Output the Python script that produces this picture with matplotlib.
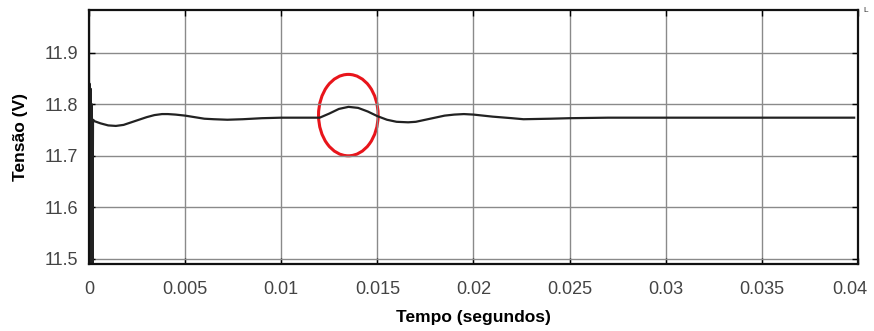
import matplotlib
matplotlib.use('Agg')
import matplotlib.pyplot as plt
import matplotlib.transforms as mtransforms
from matplotlib.patches import Ellipse

# tempo (s) e tensão (V)
tempo = [0.0, 0.00003, 0.00006, 0.00009, 0.00012, 0.00015, 0.00018, 0.00021,
         0.0003, 0.0006, 0.001, 0.0014,
         0.0018, 0.0022, 0.0026, 0.003, 0.0034, 0.0038, 0.0041, 0.0045, 0.005,
         0.0055, 0.006, 0.0065, 0.0072, 0.008, 0.009, 0.010, 0.011, 0.012,
         0.0125, 0.013, 0.0135, 0.014, 0.0145, 0.015, 0.0155, 0.016, 0.0166,
         0.017, 0.0175, 0.018, 0.0185, 0.019, 0.0195, 0.020, 0.0205, 0.021,
         0.022, 0.0226, 0.024, 0.025, 0.027, 0.030, 0.035, 0.0398]
tensao = [11.49, 11.84, 11.49, 11.83, 11.49, 11.80, 11.49, 11.77,
          11.767, 11.763, 11.759, 11.758,
          11.760, 11.765, 11.770, 11.775, 11.779, 11.781, 11.781, 11.780, 11.778,
          11.775, 11.772, 11.771, 11.770, 11.771, 11.773, 11.774, 11.774, 11.774,
          11.782, 11.791, 11.795, 11.793, 11.786, 11.777, 11.770, 11.766, 11.765,
          11.766, 11.770, 11.774, 11.778, 11.780, 11.781, 11.780, 11.778, 11.776,
          11.773, 11.771, 11.772, 11.773, 11.774, 11.774, 11.774, 11.774]

xticks = [0, 0.005, 0.01, 0.015, 0.02, 0.025, 0.03, 0.035, 0.04]
xtick_labels = ['0', '0.005', '0.01', '0.015', '0.02', '0.025', '0.03', '0.035', '0.04']
yticks = [11.5, 11.6, 11.7, 11.8, 11.9]

plt.rcParams['font.family'] = ['Liberation Sans', 'DejaVu Sans']

fig = plt.figure(figsize=(8.74, 3.31), dpi=100)
ax = fig.add_axes([0.1018, 0.2024, 0.8799, 0.7674])

ax.plot(tempo, tensao, color='#222222', lw=1.6)

# destaque do transitório
ax.add_patch(Ellipse((0.01349, 11.779), 0.0031, 0.158, fill=False,
                     edgecolor='#e8151b', lw=2.2))

ax.set_xlim(0, 0.04)
ax.set_ylim(11.49, 11.983)
ax.set_xticks(xticks)
ax.set_xticklabels(xtick_labels)
ax.set_yticks(yticks)

ax.grid(True, color='#8a8a8a', lw=1.0)
ax.tick_params(direction='in', top=True, right=True, length=4, width=1,
               labelsize=13, labelcolor='#444444', pad=8)
ax.tick_params(axis='x', pad=12)
for s in ax.spines.values():
    s.set_linewidth(1.6)
    s.set_color('#111111')

# ultimo rotulo um pouco para a esquerda, como no original
last = ax.get_xticklabels()[-1]
last.set_transform(last.get_transform() +
                   mtransforms.ScaledTranslation(-8 / 100, 0, fig.dpi_scale_trans))

ax.set_xlabel('Tempo (segundos)', fontsize=12.5, fontweight='bold', labelpad=9)
ax.set_ylabel('Tensão (V)', fontsize=12.5, fontweight='bold', labelpad=12)

fig.text(0.988, 0.978, 'L', fontsize=6, color='#333333', ha='left', va='top')

fig.savefig('out.png', dpi=100, facecolor='white')
